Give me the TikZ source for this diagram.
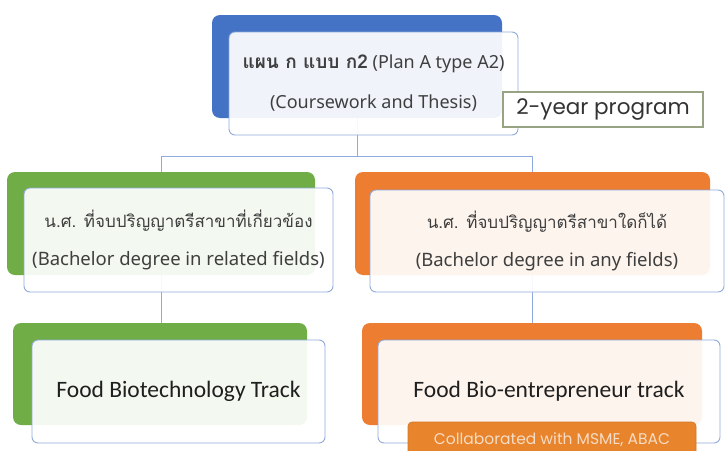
\documentclass[tikz,border=0pt]{standalone}
\usepackage{fontspec}
\setmainfont{Noto Sans}
\newfontfamily\thaifont[Script=Thai]{Loma}
\newfontfamily\popfont{Poppins}
\newfontfamily\calfont{Carlito}
\definecolor{cblue}{HTML}{4472C4}
\definecolor{cgreen}{HTML}{70AD47}
\definecolor{corange}{HTML}{ED7D31}
\definecolor{cedge}{HTML}{8FAADC}
\definecolor{ctext}{HTML}{3F3F3F}
\definecolor{cframe}{HTML}{98A384}
\definecolor{ccollab}{HTML}{E8842C}
\definecolor{ccollabtext}{HTML}{F6DCC4}
\tikzset{
  backbox/.style={rectangle, rounded corners=8pt, draw=none, inner sep=0pt},
  frontbox/.style={rectangle, rounded corners=6pt, draw=cedge, line width=0.9pt,
    fill=white, fill opacity=0.92, text opacity=1, inner sep=0pt, align=center, text=ctext},
  conn/.style={draw=cedge, line width=1pt},
}
\begin{document}
\begin{tikzpicture}[x=1pt,y=-1pt]
\clip (0,0) rectangle (725,450);
\fill[white] (0,0) rectangle (725,450);
% back boxes
\node[backbox, fill=cblue, minimum width=290pt, minimum height=103pt] (topback) at (357,66.5) {};
\node[backbox, fill=cgreen, minimum width=308pt, minimum height=103pt] (l2back) at (161,223.5) {};
\node[backbox, fill=corange, minimum width=355pt, minimum height=103pt] (r2back) at (532.5,223.5) {};
\node[backbox, fill=cgreen, minimum width=294pt, minimum height=102pt] (l3back) at (160,374) {};
\node[backbox, fill=corange, minimum width=340pt, minimum height=102pt] (r3back) at (532,374) {};
% connectors
\coordinate (j) at (357,156);
\draw[conn] (topback.south) -- (j);
\draw[conn] (j) -| (l2back.north);
\draw[conn] (j) -| (r2back.north);
\draw[conn] (l2back.south) -- (l2back.south |- l3back.north);
\draw[conn] (r2back.south) -- (r2back.south |- r3back.north);
% front boxes
\node[frontbox, minimum width=289pt, minimum height=103pt,
  font=\fontsize{18}{40}\selectfont] (top) at (373.5,83.5)
  {{\thaifont\bfseries\fontsize{19}{40}\selectfont แผน ก แบบ ก2} (Plan A type A2)\\(Coursework and Thesis)};
\node[frontbox, minimum width=309pt, minimum height=104pt,
  font=\fontsize{18.5}{38}\selectfont] (l2) at (178.5,240)
  {{\thaifont\fontsize{17}{38}\selectfont น.ศ. ที่จบปริญญาตรีสาขาที่เกี่ยวข้อง}\\(Bachelor degree in related fields)};
\node[frontbox, minimum width=354pt, minimum height=102pt,
  font=\fontsize{18.5}{38}\selectfont] (r2) at (547,241)
  {{\thaifont\fontsize{17}{38}\selectfont น.ศ. ที่จบปริญญาตรีสาขาใดก็ได้}\\(Bachelor degree in any fields)};
\node[frontbox, minimum width=293pt, minimum height=103pt,
  font=\calfont\fontsize{23.5}{26}\selectfont, text=black!88] (l3) at (178.5,391.5)
  {Food Biotechnology Track};
\node[frontbox, minimum width=342pt, minimum height=103pt,
  font=\calfont\fontsize{23.5}{26}\selectfont, text=black!88] (r3) at (549,391.5)
  {Food Bio-entrepreneur track};
% labels
\node[rectangle, draw=cframe, line width=1.3pt, fill=white, minimum width=200pt,
  minimum height=35pt, inner sep=0pt, text=black!80,
  font=\popfont\fontsize{21.5}{24}\selectfont] (yr) at (603,109.5) {2-year program};
\node[rectangle, rounded corners=4pt, fill=ccollab, draw=ccollab!90!black, line width=0.6pt,
  minimum width=288pt, minimum height=36pt, inner sep=0pt, text=ccollabtext,
  font=\popfont\fontsize{15.5}{18}\selectfont] (collab) at (552,440) {Collaborated with MSME, ABAC};
\end{tikzpicture}
\end{document}
